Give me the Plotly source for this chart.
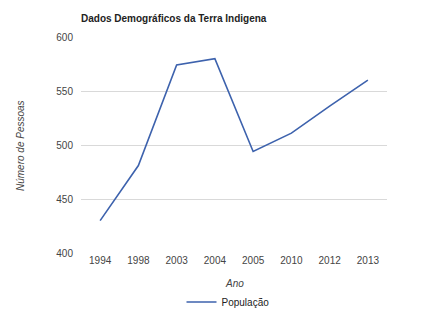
import plotly.graph_objects as go

anos = ["1994", "1998", "2003", "2004", "2005", "2010", "2012", "2013"]
populacao = [430, 481, 574, 580, 494, 511, 536, 560]
y_ticks = [400, 450, 500, 550, 600]

W, H = 448, 313
L, R, T, B = 81, 61, 37, 60
PW = W - L - R
PH = H - T - B

fig = go.Figure()
fig.add_trace(go.Scatter(
    x=anos, y=populacao, mode="lines", name="População",
    line=dict(color="#3d62ad", width=1.6),
))

font = "Liberation Sans, Arial, sans-serif"
fig.update_layout(
    width=W, height=H,
    margin=dict(l=L, r=R, t=T, b=B, autoexpand=False),
    paper_bgcolor="white", plot_bgcolor="white",
    font=dict(family=font, size=10, color="#444"),
    title=dict(text="<b>Dados Demográficos da Terra Indigena</b>",
               x=81/W, xanchor="left", y=1-18/H, yanchor="middle",
               font=dict(size=10, color="#222")),
    showlegend=True,
    legend=dict(orientation="h", x=0.5 - 6/PW, xanchor="center", y=-(302-253)/PH, yanchor="middle",
                font=dict(size=10, color="#222"), bgcolor="rgba(0,0,0,0)"),
    xaxis=dict(type="category", range=[-0.5, 7.5], showgrid=False, showline=False,
               ticks="", tickfont=dict(size=10, color="#444"), automargin=False),
    yaxis=dict(range=[400, 600], tickvals=y_ticks, showgrid=True, gridcolor="#d9d9d9",
               zeroline=False, showline=False, ticks="", ticklabelstandoff=7,
               tickfont=dict(size=10, color="#444"), automargin=False),
    annotations=[
        dict(text="<i>Ano</i>", xref="paper", yref="paper", x=0.5,
             y=-(283-253)/PH, xanchor="center", yanchor="middle", showarrow=False,
             font=dict(size=10, color="#444")),
        dict(text="<i>Número de Pessoas</i>", xref="paper", yref="paper",
             x=-(L-20)/PW, y=0.5 + (145-(T+PH/2))/-PH, xanchor="center", yanchor="middle",
             textangle=-90, showarrow=False, font=dict(size=10, color="#444")),
    ],
)
fig.write_html("out.html", config={"displayModeBar": False},
               post_script="document.body.style.margin='0';")
